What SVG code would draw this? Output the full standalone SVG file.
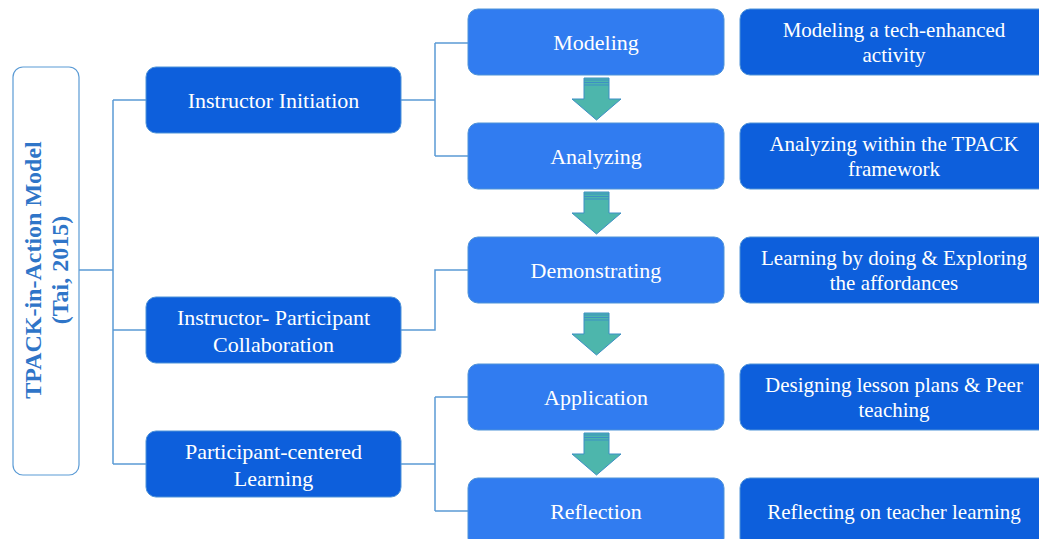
<svg xmlns="http://www.w3.org/2000/svg" width="1039" height="539" viewBox="0 0 1039 539">
<style>
.dark{fill:#0d5fdc;stroke:#4f93d8;stroke-width:1}
.light{fill:#317cf0;stroke:#4f93d8;stroke-width:1}
.t{font-family:"Liberation Serif","Times New Roman",serif;font-size:22px;fill:#ffffff;text-anchor:middle}
.r{font-size:21px}
.conn{fill:none;stroke:#5b9bd5;stroke-width:1.5}
.arr{fill:#4db6ac;stroke:#3d8fc4;stroke-width:1}
.stripe{stroke:#3d8fc4;stroke-width:1}
.title{font-family:"Liberation Serif","Times New Roman",serif;font-size:24px;font-weight:bold;fill:#2f75c8;text-anchor:middle}
</style>
<defs>
<g id="arrow">
<path class="arr" d="M584,0 H609 V21 H621 L596.5,42 L572,21 H584 Z"/>
<line class="stripe" x1="584" y1="2" x2="609" y2="2"/>
<line class="stripe" x1="584" y1="4.5" x2="609" y2="4.5"/>
<line class="stripe" x1="584" y1="7" x2="609" y2="7"/>
</g>
</defs>
<rect width="1039" height="539" fill="#ffffff"/>
<g id="connectors">
<path class="conn" d="M79,270 H113 M113,100 V464 M113,100 H146 M113,330 H146 M113,464 H146"/>
<path class="conn" d="M401,100 H435 M435,43 V156 M435,43 H468 M435,156 H468"/>
<path class="conn" d="M401,330 H435 V270 H468"/>
<path class="conn" d="M401,464 H435 M435,397 V511 M435,397 H468 M435,511 H468"/>
<use href="#arrow" y="78"/>
<use href="#arrow" y="192"/>
<use href="#arrow" y="313"/>
<use href="#arrow" y="433"/>
</g>
<g id="root">
<rect x="13" y="67" width="66" height="408" rx="10" fill="#ffffff" stroke="#5b9bd5" stroke-width="1.2"/>
<text class="title" transform="translate(41,270) rotate(-90)">TPACK-in-Action Model</text>
<text class="title" transform="translate(68,270) rotate(-90)">(Tai, 2015)</text>
</g>
<g id="instructor-initiation">
<rect class="dark" x="146" y="67" width="255" height="66" rx="10"/>
<text class="t" x="273.5" y="108">Instructor Initiation</text>
</g>
<g id="collaboration">
<rect class="dark" x="146" y="297" width="255" height="66" rx="10"/>
<text class="t" x="273.5" y="325">Instructor- Participant</text>
<text class="t" x="273.5" y="352">Collaboration</text>
</g>
<g id="participant-centered">
<rect class="dark" x="146" y="431" width="255" height="66" rx="10"/>
<text class="t" x="273.5" y="459">Participant-centered</text>
<text class="t" x="273.5" y="486">Learning</text>
</g>
<g id="modeling">
<rect class="light" x="468" y="9" width="256" height="66" rx="10"/>
<text class="t" x="596" y="50">Modeling</text>
</g>
<g id="analyzing">
<rect class="light" x="468" y="123" width="256" height="66" rx="10"/>
<text class="t" x="596" y="164">Analyzing</text>
</g>
<g id="demonstrating">
<rect class="light" x="468" y="237" width="256" height="66" rx="10"/>
<text class="t" x="596" y="278">Demonstrating</text>
</g>
<g id="application">
<rect class="light" x="468" y="364" width="256" height="66" rx="10"/>
<text class="t" x="596" y="405">Application</text>
</g>
<g id="reflection">
<rect class="light" x="468" y="478" width="256" height="70" rx="10"/>
<text class="t" x="596" y="519">Reflection</text>
</g>
<g id="desc-modeling">
<rect class="dark" x="740" y="9" width="310" height="66" rx="10"/>
<text class="t r" x="894" y="37">Modeling a tech-enhanced</text>
<text class="t r" x="894" y="62">activity</text>
</g>
<g id="desc-analyzing">
<rect class="dark" x="740" y="123" width="310" height="66" rx="10"/>
<text class="t r" x="894" y="151">Analyzing within the TPACK</text>
<text class="t r" x="894" y="176">framework</text>
</g>
<g id="desc-demonstrating">
<rect class="dark" x="740" y="237" width="310" height="66" rx="10"/>
<text class="t r" x="894" y="265">Learning by doing &amp; Exploring</text>
<text class="t r" x="894" y="290">the affordances</text>
</g>
<g id="desc-application">
<rect class="dark" x="740" y="364" width="310" height="66" rx="10"/>
<text class="t r" x="894" y="392">Designing lesson plans &amp; Peer</text>
<text class="t r" x="894" y="417">teaching</text>
</g>
<g id="desc-reflection">
<rect class="dark" x="740" y="478" width="310" height="70" rx="10"/>
<text class="t r" x="894" y="519">Reflecting on teacher learning</text>
</g>
</svg>
